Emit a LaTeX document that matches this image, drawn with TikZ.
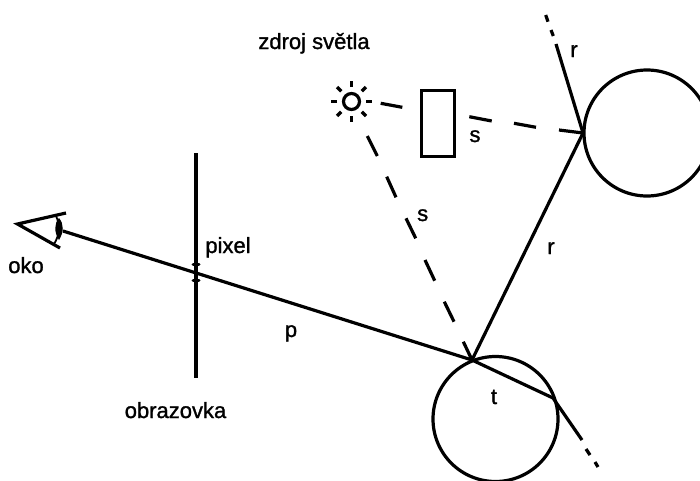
\documentclass[tikz,border=0pt]{standalone}
\usepackage{fontspec}
\setmainfont[FakeBold=1.2]{Liberation Sans}
\tikzset{
  ln/.style={line width=3.2pt,black},
  tick ln/.style={line width=3pt,black,line cap=round},
  lbl/.style={font=\fontsize{22}{26}\selectfont,inner sep=0pt,text=black,anchor=base},
}
\begin{document}
\begin{tikzpicture}[x=1pt,y=-1pt]
\useasboundingbox[fill=white] (0,0) rectangle (700,480);
% key points
\coordinate (eye) at (63,231);
\coordinate (hit1) at (472,360);
\coordinate (exit) at (553,398);
\coordinate (tend) at (582,440);
\coordinate (hit2) at (583,133);
\coordinate (rend) at (556,44);
\coordinate (sun) at (351.5,101.5);
% screen
\coordinate (scrT) at (196,153);
\coordinate (scrB) at (196,378);
\draw[ln] (scrT) -- (scrB);
\foreach \yy in {264,280} \draw[tick ln] (193,\yy) -- (199,\yy);
% spheres
\node[circle,draw,line width=3.2pt,minimum size=125pt,inner sep=0pt] (c1) at (495.5,419) {};
\node[circle,draw,line width=3.2pt,minimum size=126pt,inner sep=0pt] (c2) at (647,133) {};
% rays
\draw[ln] (eye) -- (hit1) -- (exit) -- (tend);
\draw[ln] (hit1) -- (hit2) -- (rend);
% dashed continuation
\draw[ln] (586,449) -- (590,455);
\draw[ln] (595,462) -- (598,467);
\draw[ln] (551,30) -- (553.3,36);
\draw[ln] (545.7,15) -- (548,21.7);
% shadow rays
\draw[ln] (380.7,103.3) -- (402.3,107.3);
\draw[ln] (469.3,116.7) -- (491.7,121);
\draw[ln] (514,123.3) -- (536,127.3);
\draw[ln] (559,130) -- (hit2);
\draw[ln] (367.3,136) -- (377.3,156);
\draw[ln] (386.7,176.7) -- (396,197.3);
\draw[ln] (406,218.3) -- (415.7,238.3);
\draw[ln] (425,260) -- (434.7,280.7);
\draw[ln] (444.3,301.7) -- (454,321.7);
\draw[ln] (463.3,341.7) -- (hit1);
% blocker
\node[draw,line width=3.2pt,minimum width=33pt,minimum height=66pt,inner sep=0pt] (box) at (437.8,123.6) {};
% sun
\node[circle,draw,line width=3.2pt,minimum size=16pt,inner sep=0pt] (s0) at (sun) {};
\foreach \a in {0,45,...,315}
  \draw[line width=3.2pt] (sun) ++(\a:14.5) -- ++(\a:6);
% eye
\draw[ln] (66,213) -- (17.5,224) -- (60,248);
\draw[line width=1.8pt] (56,216) .. controls (60,224) and (60,235) .. (54,244);
\fill (59,218) .. controls (54,224) and (54,232) .. (59,240) .. controls (64,232) and (64,224) .. (59,218) -- cycle;
% labels
\node[lbl] (l1) at (314,49) {zdroj světla};
\node[lbl] (l2) at (228,253) {pixel};
\node[lbl] (l3) at (26,273) {oko};
\node[lbl] (l4) at (175.5,418) {obrazovka};
\node[lbl] (l5) at (291,337) {p};
\node[lbl] (l6) at (494,404) {t};
\node[lbl] (l7) at (475,142) {s};
\node[lbl] (l8) at (422.7,221) {s};
\node[lbl] (l9) at (551,254) {r};
\node[lbl] (l10) at (574,57) {r};
\end{tikzpicture}
\end{document}
